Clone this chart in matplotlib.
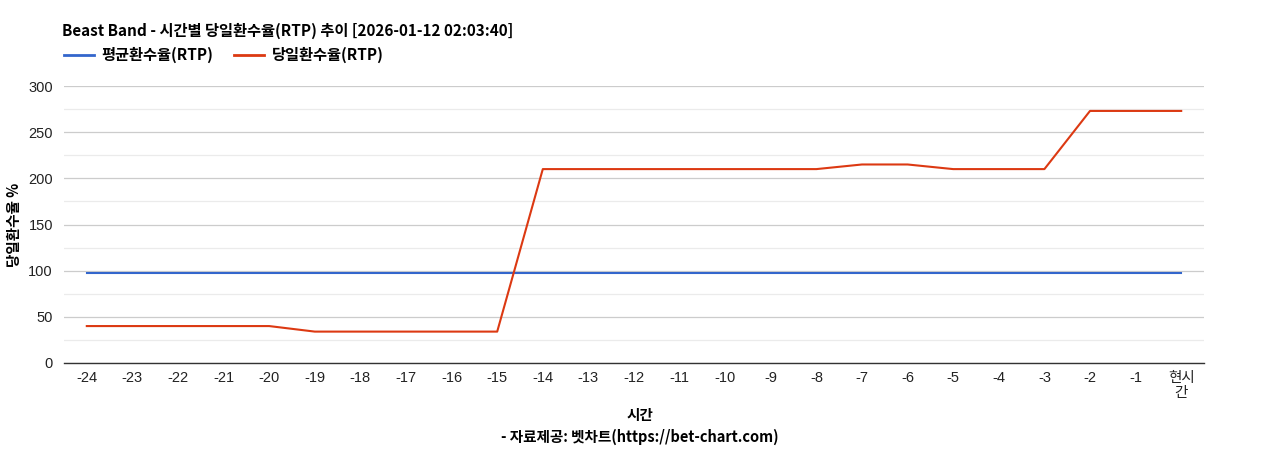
import matplotlib
matplotlib.use("Agg")
import matplotlib.pyplot as plt
from matplotlib.lines import Line2D

plt.rcParams['font.family'] = ['Noto Sans CJK KR', 'DejaVu Sans']

# data
hours = ["-24", "-23", "-22", "-21", "-20", "-19", "-18", "-17", "-16", "-15",
         "-14", "-13", "-12", "-11", "-10", "-9", "-8", "-7", "-6", "-5",
         "-4", "-3", "-2", "-1", "현시\n간"]
avg_rtp = [97] * 25
day_rtp = [40, 40, 40, 40, 40, 34, 34, 34, 34, 34,
           210, 210, 210, 210, 210, 210, 210, 215, 215, 210,
           210, 210, 273, 273, 273]

blue = "#3366cc"
red = "#dc3912"

fig = plt.figure(figsize=(12.68, 4.5), dpi=100)
ax = fig.add_axes([64 / 1268, 87 / 450, 1140 / 1268, 277 / 450])

x = list(range(len(hours)))
ax.plot(x, avg_rtp, color=blue, lw=1.5, zorder=3)
ax.plot(x, day_rtp, color=red, lw=1.5, zorder=4)

ax.set_xlim(-0.5, len(hours) - 0.5)
ax.set_ylim(0, 300)
ax.set_yticks([0, 50, 100, 150, 200, 250, 300])
ax.set_yticks([25, 75, 125, 175, 225, 275], minor=True)
ax.grid(axis="y", which="major", color="#cccccc", lw=0.9)
ax.grid(axis="y", which="minor", color="#ebebeb", lw=0.9)
ax.set_axisbelow(True)
ax.set_xticks(x)
ax.set_xticklabels(hours, linespacing=1.1)
ax.tick_params(axis="both", which="both", length=0, labelsize=10.5, colors="#222222")
ax.tick_params(axis="x", pad=6)
ax.tick_params(axis="y", pad=8)
for lab in ax.get_xticklabels() + ax.get_yticklabels():
    lab.set_family(['Liberation Sans', 'Noto Sans CJK KR'])
for s in ["top", "right", "left"]:
    ax.spines[s].set_visible(False)
ax.spines["bottom"].set_color("#333333")
ax.spines["bottom"].set_linewidth(1)

ax.set_ylabel("당일환수율 %", fontsize=10.5, fontweight="bold")
ax.yaxis.set_label_coords(-42 / 1140, 0.5)

fig.text(640 / 1268, 1 - 415 / 450, "시간", ha="center", va="center",
         fontsize=10.5, fontweight="bold")
fig.text(640 / 1268, 1 - 437 / 450, "- 자료제공: 벳차트(https://bet-chart.com)",
         ha="center", va="center", fontsize=10.5, fontweight="bold")

fig.text(62 / 1268, 1 - 31 / 450,
         "Beast Band - 시간별 당일환수율(RTP) 추이 [2026-01-12 02:03:40]",
         ha="left", va="center", fontsize=11, fontweight="bold")

handles = [Line2D([], [], color=blue, lw=2), Line2D([], [], color=red, lw=2)]
fig.legend(handles, ["평균환수율(RTP)", "당일환수율(RTP)"],
           loc="center left", bbox_to_anchor=(59 / 1268, 1 - 55 / 450),
           ncol=2, frameon=False, handlelength=2.0, handletextpad=0.5,
           columnspacing=1.3, borderaxespad=0, borderpad=0.3,
           prop={"weight": "bold", "size": 11})

fig.savefig("out.png", dpi=100)
